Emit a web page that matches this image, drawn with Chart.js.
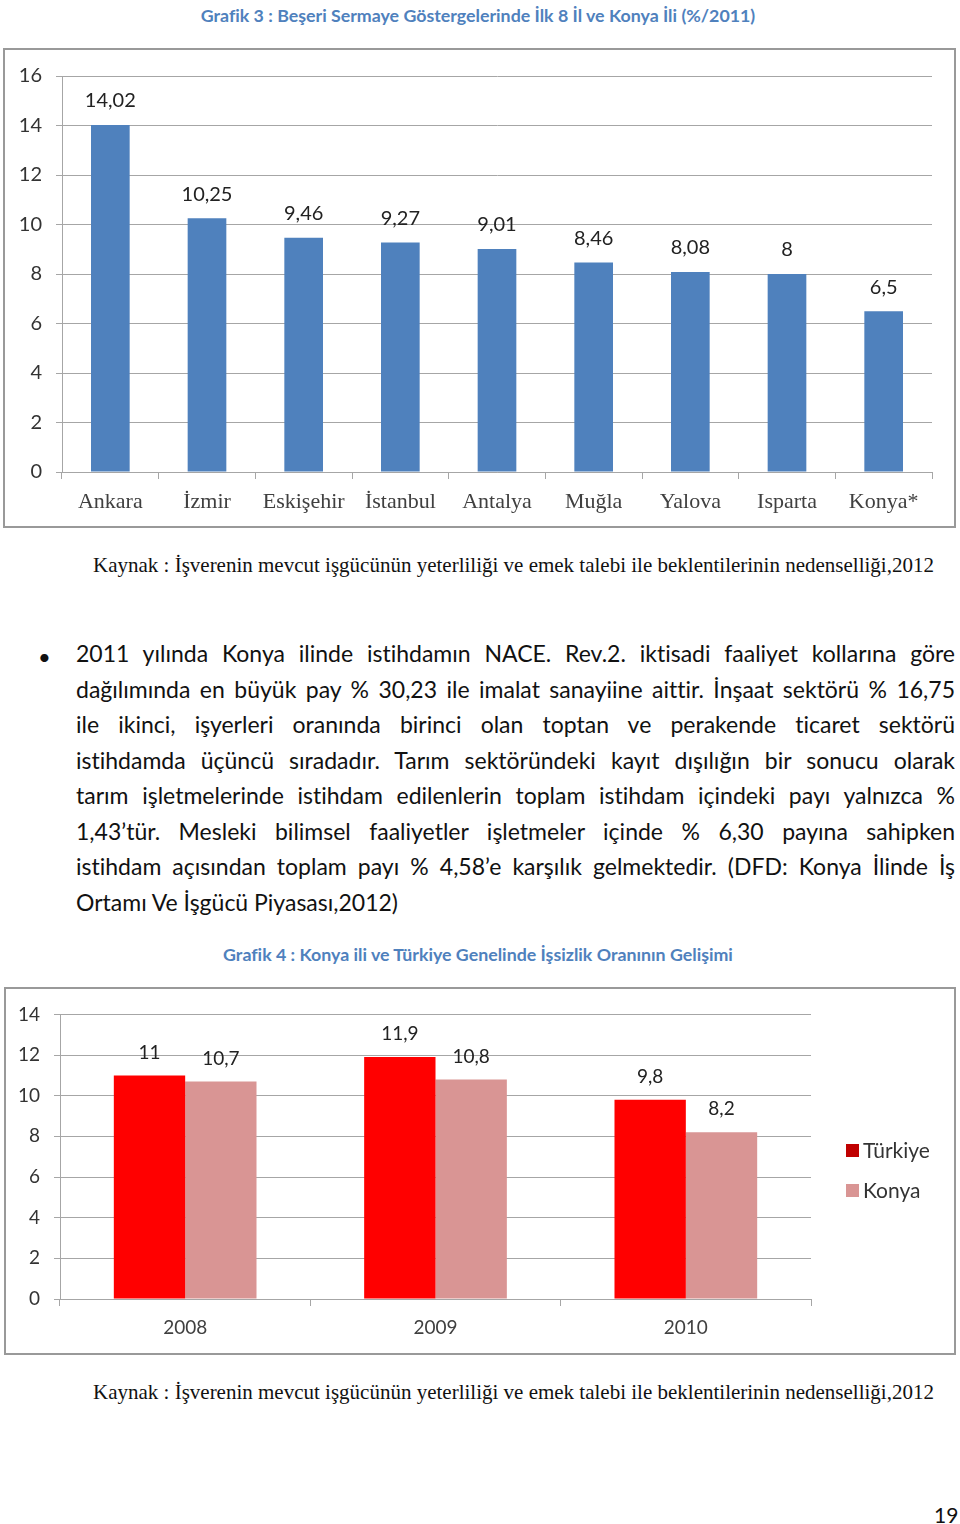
<!DOCTYPE html>
<html lang="tr">
<head>
<meta charset="utf-8">
<script src="https://cdn.jsdelivr.net/npm/chart.js@4"></script>
<style>
body{margin:0;background:#fff}
#page{position:relative;width:960px;height:1524px;overflow:hidden;font-family:Lato,"Noto Sans",sans-serif;color:#111;font-variant-ligatures:none}
.title{position:absolute;left:0;width:956px;text-align:center;font-weight:bold;font-size:17.8px;color:#4F81BD}
.box{position:absolute;border:2px solid #999;box-sizing:border-box}
.src{position:absolute;left:93px;white-space:nowrap;font-family:"Liberation Serif",serif;font-size:21px;color:#111}
.para{position:absolute;left:76px;width:879px;font-size:23px;line-height:35.5px}
.para div{text-align:justify;text-align-last:justify;white-space:nowrap}
.para div.last{text-align-last:left}
.bullet{position:absolute;left:38px;top:643px;font-size:22px}
#legend2{position:absolute;left:846px;top:1137px;font-size:21px;color:#333}
#legend2 div{height:40px;display:flex;align-items:flex-start}
#legend2 span.sw{display:inline-block;width:13px;height:13px;margin-right:4px;margin-top:7px}
.pnum{position:absolute;left:934px;top:1502px;font-size:21px}
</style>
</head>
<body>
<div id="page">
<div class="title" style="top:4px">Grafik 3 : Beşeri Sermaye Göstergelerinde İlk 8 İl ve Konya İli (%/2011)</div>
<div class="box" style="left:3px;top:48px;width:953px;height:480px"><canvas id="c1"></canvas></div>
<div class="src" style="top:553px">Kaynak : İşverenin mevcut işgücünün yeterliliği ve emek talebi ile beklentilerinin nedenselliği,2012</div>

<div class="bullet">•</div>
<div class="para" style="top:636px">
<div>2011 yılında Konya ilinde istihdamın NACE. Rev.2. iktisadi faaliyet kollarına göre</div>
<div>dağılımında en büyük pay % 30,23 ile imalat sanayiine aittir. İnşaat sektörü % 16,75</div>
<div>ile ikinci, işyerleri oranında birinci olan toptan ve perakende ticaret sektörü</div>
<div>istihdamda üçüncü sıradadır. Tarım sektöründeki kayıt dışılığın bir sonucu olarak</div>
<div>tarım işletmelerinde istihdam edilenlerin toplam istihdam içindeki payı yalnızca %</div>
<div>1,43’tür. Mesleki bilimsel faaliyetler işletmeler içinde % 6,30 payına sahipken</div>
<div>istihdam açısından toplam payı % 4,58’e karşılık gelmektedir. (DFD: Konya İlinde İş</div>
<div class="last">Ortamı Ve İşgücü Piyasası,2012)</div>
</div>

<div class="title" style="top:943px">Grafik 4 : Konya ili ve Türkiye Genelinde İşsizlik Oranının Gelişimi</div>
<div class="box" style="left:4px;top:987px;width:952px;height:368px"><canvas id="c2"></canvas></div>
<div id="legend2"></div>
<div class="src" style="top:1380px">Kaynak : İşverenin mevcut işgücünün yeterliliği ve emek talebi ile beklentilerinin nedenselliği,2012</div>
<div class="pnum">19</div>
</div>

<script>
// Grafik 3
const iller=["Ankara","İzmir","Eskişehir","İstanbul","Antalya","Muğla","Yalova","Isparta","Konya*"]
const sermaye=[14.02,10.25,9.46,9.27,9.01,8.46,8.08,8,6.5]
const ticks1=[0,2,4,6,8,10,12,14,16]

// Grafik 4
const yillar=["2008","2009","2010"]
const turkiye=[11,11.9,9.8]
const konya=[10.7,10.8,8.2]
const ticks2=[0,2,4,6,8,10,12,14]

const seriesNames=["Türkiye","Konya"]
const seriesColors=["#FF0000","#D99594"]
const legendColors=["#C00000","#D99594"]

const barValues={
id:"barValues",
afterDatasetsDraw(chart,args,opts){
const ctx=chart.ctx
ctx.save()
ctx.font=opts.font
ctx.fillStyle=opts.color
ctx.textAlign="center"
ctx.textBaseline="middle"
chart.data.datasets.forEach((ds,i)=>{
chart.getDatasetMeta(i).data.forEach((bar,j)=>{
ctx.fillText(String(ds.data[j]).replace(".",","),bar.x,bar.y-opts.offset)
})
})
ctx.restore()
}
}

function yScale(tickVals,max,w,font){
return {
min:0,max:max,
afterBuildTicks:s=>{s.ticks=tickVals.map(v=>({value:v}))},
afterFit:s=>{s.width=w},
grid:{color:"#A6A6A6",tickLength:6},
border:{color:"#A6A6A6"},
ticks:{padding:14,color:"#333",font:font}
}
}

function xScale(h,font,pad){
return {
afterFit:s=>{s.height=h},
grid:{display:true,drawOnChartArea:false,offset:true,tickLength:7,color:"#A6A6A6"},
border:{color:"#A6A6A6"},
ticks:{padding:pad,color:"#404040",font:font}
}
}

new Chart(document.getElementById("c1"),{
type:"bar",
data:{
labels:iller,
datasets:[{data:sermaye,backgroundColor:"#4F81BD",barPercentage:0.4,categoryPercentage:1}]
},
options:{
responsive:true,maintainAspectRatio:false,animation:false,
layout:{padding:{top:24,right:22,left:0,bottom:0}},
plugins:{legend:{display:false},tooltip:{enabled:false},
barValues:{font:"20px Lato",color:"#222",offset:24}},
scales:{
y:yScale(ticks1,16,57,{family:"Lato",size:20}),
x:xScale(54,{family:"Liberation Serif",size:22},10)
}
},
plugins:[barValues]
})

new Chart(document.getElementById("c2"),{
type:"bar",
data:{
labels:yillar,
datasets:seriesNames.map((n,i)=>({
label:n,
data:i==0?turkiye:konya,
backgroundColor:seriesColors[i],
barPercentage:1,categoryPercentage:0.57
}))
},
options:{
responsive:true,maintainAspectRatio:false,animation:false,
layout:{padding:{top:21,right:143,left:0,bottom:0}},
plugins:{legend:{display:false},tooltip:{enabled:false},
barValues:{font:"19px Lato",color:"#222",offset:23}},
scales:{
y:yScale(ticks2,14,54,{family:"Lato",size:19}),
x:xScale(54,{family:"Lato",size:19},10)
}
},
plugins:[barValues]
})

const lg=document.getElementById("legend2")
seriesNames.forEach((n,i)=>{
const d=document.createElement("div")
d.innerHTML=`<span class="sw" style="background:${legendColors[i]}"></span>${n}`
lg.appendChild(d)
})
</script>
</body>
</html>
